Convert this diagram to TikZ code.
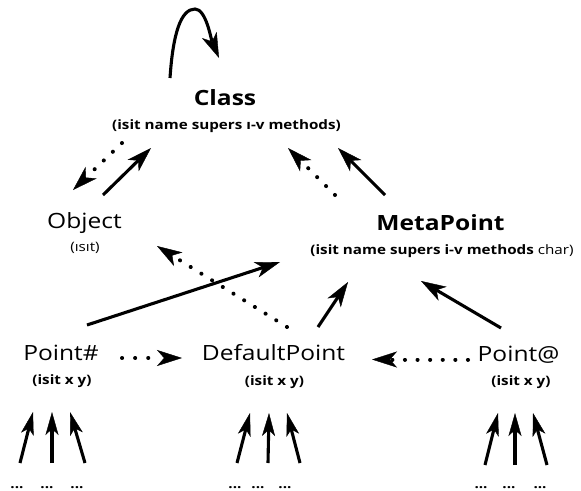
\documentclass[tikz,border=0pt]{standalone}
\usepackage{fontspec}
\setmainfont[FakeStretch=1.17]{Open Sans}
\usetikzlibrary{arrows.meta,calc}

\tikzset{
  title/.style={anchor=base, inner sep=0pt, font=\fontsize{21}{25}\selectfont},
  titlebf/.style={anchor=base, inner sep=0pt, font=\fontsize{21}{25}\selectfont\bfseries},
  sub/.style={anchor=base, inner sep=0pt, font=\fontsize{13}{15}\selectfont},
  subbf/.style={anchor=base, inner sep=0pt, font=\fontsize{13}{15}\selectfont\bfseries},
  bighead/.tip={Stealth[length=25pt,width=16pt,inset=7pt,line width=0.4pt]},
  solidarrow/.style={line width=3.1pt, -bighead},
  dotarrow/.style={line width=4pt, line cap=round, dash pattern=on 0.1pt off 12.5pt, -bighead},
  threedots/.style={dash pattern=on 0.1pt off 13pt on 0.1pt off 13pt on 0.1pt off 300pt},
  uparrow/.style={line width=3.1pt, -{Stealth[length=23pt,width=13pt,inset=6pt,line width=0.4pt]}},
}

\begin{document}
\begin{tikzpicture}[x=1pt,y=-1pt]
  \fill[white] (0,0) rectangle (581,490);
  \useasboundingbox (0,0) rectangle (581,490);

  % class names and their slots
  \node[titlebf] (class)    at (225,105)   {Class};
  \node[subbf]   (classsub) at (226.5,129.5) {(isit name supers ı-v methods)};

  \node[title]   (object)    at (84.5,228) {Object};
  \node[sub]     (objectsub) at (85,251)   {(ısıt)};

  \node[titlebf] (meta)    at (440.5,230) {MetaPoint};
  \node[sub]     (metasub) at (442,254)   {\bfseries(isit name supers i-v methods\mdseries\ char)};

  \node[title]   (pth)    at (61,360)    {Point\#};
  \node[subbf]   (pthsub) at (62,384.5)  {(isit x y)};

  \node[title]   (dflt)    at (273.5,360) {DefaultPoint};
  \node[subbf]   (dfltsub) at (274.5,385) {(isit x y)};

  \node[title]   (ptat)    at (518.5,361) {Point@};
  \node[subbf]   (ptatsub) at (521,385)   {(isit x y)};

  % instances below each point class
  \node[subbf] (da1) at (17,488)  {...};
  \node[subbf] (da2) at (47,488)  {...};
  \node[subbf] (da3) at (77,488)  {...};
  \node[subbf] (db1) at (235,488) {...};
  \node[subbf] (db2) at (258,488) {...};
  \node[subbf] (db3) at (285,488) {...};
  \node[subbf] (dc1) at (481,488) {...};
  \node[subbf] (dc2) at (509,488) {...};
  \node[subbf] (dc3) at (540,488) {...};

  % Class is an instance of itself
  \draw[solidarrow] ($(class.base)+(-55,-27)$)
      .. controls ($(class.base)+(-52,-72)$) and ($(class.base)+(-44,-96)$) .. ($(class.base)+(-30,-96)$)
      .. controls ($(class.base)+(-19,-96)$) and ($(class.base)+(-14,-66)$) .. ($(class.base)+(-6,-47)$);

  % Object <-> Class
  \draw[solidarrow] ($(object.base)+(18.5,-33)$) -- ($(classsub.base)+(-75.5,18.5)$);
  \draw[dotarrow]   ($(classsub.base)+(-104.5,13.5)$) -- ($(object.base)+(-11.5,-38)$);

  % MetaPoint -> Class
  \draw[dotarrow]   ($(meta.base)+(-105.5,-35)$) -- ($(classsub.base)+(61.5,18.5)$);
  \draw[solidarrow] ($(meta.base)+(-55.5,-35)$)  -- ($(classsub.base)+(111.5,18.5)$);

  % DefaultPoint -> Object
  \draw[dotarrow]   ($(dflt.base)+(13.5,-33)$) -- ($(objectsub.base)+(72,-5)$);

  % point classes -> MetaPoint
  \draw[solidarrow] ($(pth.base)+(26,-35)$)    -- ($(metasub.base)+(-162,8)$);
  \draw[solidarrow] ($(dflt.base)+(44.5,-33)$) -- ($(metasub.base)+(-94,28)$);
  \draw[solidarrow] ($(ptat.base)+(-17.5,-33)$) -- ($(metasub.base)+(-21,27)$);

  % point classes -> DefaultPoint
  \draw[dotarrow, threedots] ($(pth.base)+(61,-2)$) -- ($(dflt.base)+(-91.5,-2)$);
  \draw[dotarrow] ($(ptat.base)+(-50.5,-1.5)$) -- ($(dflt.base)+(98.5,-0.5)$);

  % instances -> their classes
  \draw[uparrow] ($(da1.base)+(3,-25)$)  -- ($(pthsub.base)+(-29,27.5)$);
  \draw[uparrow] ($(da2.base)+(5,-25)$)  -- ($(pthsub.base)+(-10,27.5)$);
  \draw[uparrow] ($(da3.base)+(8,-25)$)  -- ($(pthsub.base)+(8,27.5)$);
  \draw[uparrow] ($(db1.base)+(2,-25)$)  -- ($(dfltsub.base)+(-24.5,28)$);
  \draw[uparrow] ($(db2.base)+(10,-25)$) -- ($(dfltsub.base)+(-5.5,28)$);
  \draw[uparrow] ($(db3.base)+(15,-25)$) -- ($(dfltsub.base)+(12.5,28)$);
  \draw[uparrow] ($(dc1.base)+(4,-23)$)  -- ($(ptatsub.base)+(-23,28)$);
  \draw[uparrow] ($(dc2.base)+(6,-23)$)  -- ($(ptatsub.base)+(-6,28)$);
  \draw[uparrow] ($(dc3.base)+(7,-23)$)  -- ($(ptatsub.base)+(12,28)$);
\end{tikzpicture}
\end{document}
